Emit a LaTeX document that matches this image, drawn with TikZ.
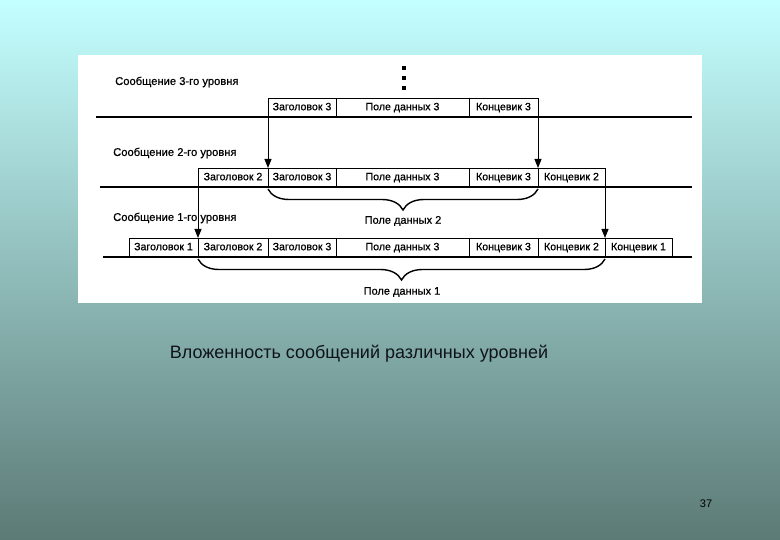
\documentclass[tikz,border=0pt]{standalone}
\usepackage{fontspec}
\setmainfont{Liberation Sans}
\newfontfamily\scanfont[FakeBold=0.7]{Liberation Sans}
\usetikzlibrary{arrows.meta,decorations.pathreplacing}
\tikzset{
  cell/.style={draw, line width=0.9pt, minimum height=19pt, inner sep=0pt, outer sep=0pt, anchor=south west, text height=8pt, text depth=2.5pt, font=\scanfont\fontsize{10.6}{12}\selectfont},
  lvl/.style={anchor=west, inner sep=0pt, font=\scanfont\fontsize{11.2}{13}\selectfont},
  baseline/.style={line width=1.3pt},
  down/.style={line width=1pt, -{Triangle[length=9pt,width=7pt]}},
  brc/.style={line width=1.4pt, decorate, decoration={brace, mirror, amplitude=21pt}},
  brlabel/.style={inner sep=0pt, font=\scanfont\fontsize{11}{13}\selectfont}
}
\begin{document}
\begin{tikzpicture}[x=1pt,y=-1pt]
\useasboundingbox (0,0) rectangle (780,540);
\shade[top color={rgb,255:red,196;green,255;blue,255}, bottom color={rgb,255:red,92;green,122;blue,118}] (0,0) rectangle (780,540);
\fill[white] (78,55) rectangle (702,303);

% dots
\foreach \yy in {68,78,88} \fill[black] (401.5,\yy-2) rectangle (405.5,\yy+2);

% level labels
\node[lvl] (l3) at (115,82) {Сообщение 3-го уровня};
\node[lvl] (l2) at (113,153) {Сообщение 2-го уровня};
\node[lvl] (l1) at (113,218) {Сообщение 1-го уровня};

% base lines
\coordinate (a3) at (96,117); \coordinate (b3) at (692,117);
\coordinate (a2) at (100,187); \coordinate (b2) at (692,187);
\coordinate (a1) at (103,257); \coordinate (b1) at (692,257);
\draw[baseline] (a3) -- (b3);
\draw[baseline] (a2) -- (b2);
\draw[baseline] (a1) -- (b1);

% level 3
\node[cell, minimum width=68pt] (h33) at (268,117) {Заголовок 3};
\node[cell, minimum width=133pt] (d33) at (336,117) {Поле данных 3};
\node[cell, minimum width=69pt] (t33) at (469,117) {Концевик 3};

% level 2
\node[cell, minimum width=70pt] (h22) at (198,187) {Заголовок 2};
\node[cell, minimum width=68pt] (h32) at (268,187) {Заголовок 3};
\node[cell, minimum width=133pt] (d32) at (336,187) {Поле данных 3};
\node[cell, minimum width=69pt] (t32) at (469,187) {Концевик 3};
\node[cell, minimum width=67pt] (t22) at (538,187) {Концевик 2};

% level 1
\node[cell, minimum width=69pt] (h11) at (129,257) {Заголовок 1};
\node[cell, minimum width=70pt] (h21) at (198,257) {Заголовок 2};
\node[cell, minimum width=68pt] (h31) at (268,257) {Заголовок 3};
\node[cell, minimum width=133pt] (d31) at (336,257) {Поле данных 3};
\node[cell, minimum width=69pt] (t31) at (469,257) {Концевик 3};
\node[cell, minimum width=67pt] (t21) at (538,257) {Концевик 2};
\node[cell, minimum width=67pt] (t11) at (605,257) {Концевик 1};

% arrows
\draw[down] (h33.north west) -- (h32.north west);
\draw[down] (t33.north east) -- (t32.north east);
\draw[down] (h22.north west) -- (h21.north west);
\draw[down] (t22.north east) -- (t21.north east);

% braces
\draw[brc] ([yshift=-2pt]h32.south west) -- ([yshift=-2pt]t32.south east);
\node[brlabel] (pd2) at (403,221) {Поле данных 2};
\draw[brc] ([yshift=-2pt]h21.south west) -- ([yshift=-2pt]t21.south east);
\node[brlabel] (pd1) at (402,292) {Поле данных 1};

% caption
\node[inner sep=0pt, font=\fontsize{18}{21}\selectfont, text={rgb,255:red,15;green,20;blue,25}] (cap) at (359,354) {Вложенность сообщений различных уровней};
\node[inner sep=0pt, font=\fontsize{11}{13}\selectfont] (pg) at (706,504) {37};
\end{tikzpicture}
\end{document}
